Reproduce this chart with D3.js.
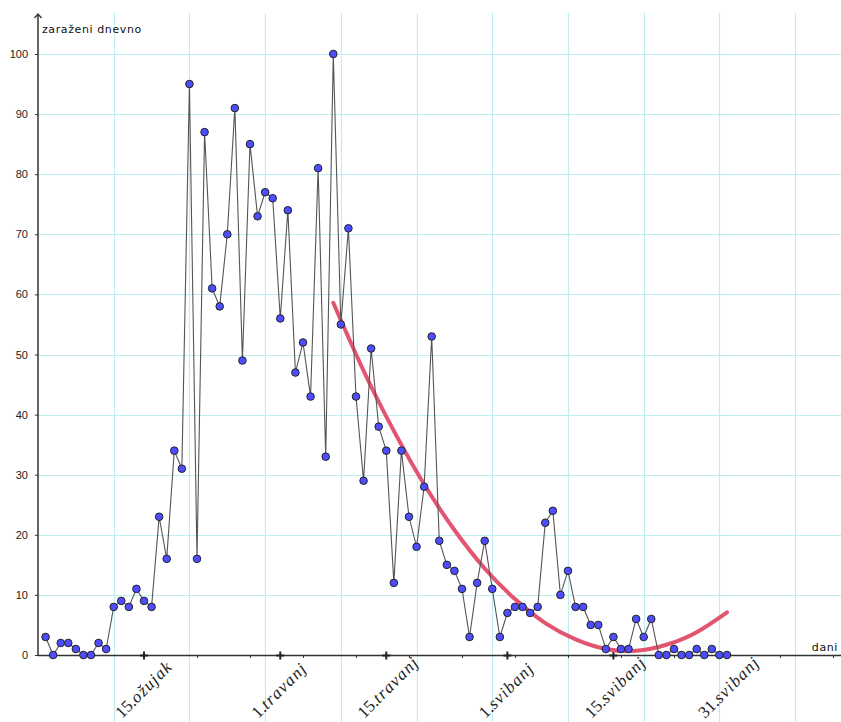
<!DOCTYPE html>
<html>
<head>
<meta charset="utf-8">
<script src="https://cdn.jsdelivr.net/npm/d3@7"></script>
<style>
  body { margin: 0; background: #fff; }
  svg { display: block; }
</style>
</head>
<body>
<svg id="chart" width="841" height="722"></svg>
<script>
// daily new cases, one value per day (day 1 .. day 91)
var days = d3.range(1, 92);
var cases = [3,0,2,2,1,0,0,2,1,8,
             9,8,11,9,8,23,16,34,31,95,
             16,87,61,58,70,91,49,85,73,77,
             76,56,74,47,52,43,81,33,100,55,
             71,43,29,51,38,34,12,34,23,18,
             28,53,19,15,14,11,3,12,19,11,
             3,7,8,8,7,8,22,24,10,14,
             8,8,5,5,1,3,1,1,6,3,
             6,0,0,1,0,0,1,0,1,0,
             0];

// trend curve
var fitDays   = [39, 43, 47, 51, 55, 59, 63, 67, 71, 75, 79, 83, 87, 91];
var fitValues = [58.6, 47.3, 37.3, 28.4, 20.8, 14.4, 9.3, 5.3, 2.6, 1.0, 0.7, 1.7, 3.8, 7.1];

// axes
var yTicks = [0, 10, 20, 30, 40, 50, 60, 70, 80, 90, 100];
var gridDays = [10, 20, 30, 40, 50, 60, 70, 80, 90, 100];
var gridValues = [10, 20, 30, 40, 50, 60, 70, 80, 90, 100];
var minorTickDays = [7, 14, 21, 28, 35, 42, 49, 56, 63, 70, 77, 84, 91, 98, 105];
var markDays = [14, 32, 46, 62, 76];
var labelDays = [14, 32, 46, 62, 76, 91];
var labelNums = ["15.", "1.", "15.", "1.", "15.", "31."];
var labelMonths = ["ožujak", "travanj", "travanj", "svibanj", "svibanj", "svibanj"];

var svg = d3.select("#chart");
var x = d3.scaleLinear().domain([0, 106.06]).range([38, 841]);
var y = d3.scaleLinear().domain([0, 100]).range([655, 54]);

// grid
var grid = svg.append("g").attr("stroke", "#bdeef0").attr("stroke-width", 1.2);
grid.selectAll("line.v")
    .data(gridDays)
    .enter().append("line")
    .attr("class", "v")
    .attr("x1", function(d) { return Math.round(x(d)) + 0.5; })
    .attr("x2", function(d) { return Math.round(x(d)) + 0.5; })
    .attr("y1", 13).attr("y2", 722);
grid.selectAll("line.h")
    .data(gridValues)
    .enter().append("line")
    .attr("class", "h")
    .attr("y1", function(d) { return Math.round(y(d)) + 0.5; })
    .attr("y2", function(d) { return Math.round(y(d)) + 0.5; })
    .attr("x1", 38).attr("x2", 841);

// y axis ticks + labels
var yAxis = svg.append("g")
    .attr("transform", "translate(38,0)")
    .call(d3.axisLeft(y).tickValues(yTicks).tickSize(3).tickPadding(7));
yAxis.select(".domain").remove();
yAxis.selectAll("line").attr("stroke", "#333");
yAxis.selectAll("text")
    .style("font-family", "'Liberation Sans', Arial, sans-serif")
    .style("font-size", "11px")
    .attr("fill", "#222");

// x axis small ticks
var xAxis = svg.append("g")
    .attr("transform", "translate(0,655)")
    .call(d3.axisBottom(x).tickValues(minorTickDays).tickSize(3).tickFormat(""));
xAxis.select(".domain").remove();
xAxis.selectAll("line").attr("stroke", "#333");

// axis lines
svg.append("line").attr("x1", 38).attr("x2", 841).attr("y1", 655.5).attr("y2", 655.5)
    .attr("stroke", "#333").attr("stroke-width", 1.5);
svg.append("line").attr("x1", 38).attr("x2", 38).attr("y1", 655).attr("y2", 14)
    .attr("stroke", "#333").attr("stroke-width", 1.5);
svg.append("path").attr("d", "M34.5,18 L38,14 L41.5,18")
    .attr("fill", "none").attr("stroke", "#333").attr("stroke-width", 1.3);

// cross marks at the labelled dates
svg.selectAll("path.mark")
    .data(markDays)
    .enter().append("path")
    .attr("class", "mark")
    .attr("d", function(d) {
      var cx = x(d), cy = y(0) + 0.5;
      return "M" + (cx - 4) + "," + cy + "H" + (cx + 4) + "M" + cx + "," + (cy - 4) + "V" + (cy + 4);
    })
    .attr("stroke", "#222").attr("stroke-width", 2);

// axis titles
svg.append("text").attr("x", 42).attr("y", 33)
    .style("font-family", "'DejaVu Sans', sans-serif").style("font-size", "11px")
    .style("letter-spacing", "0.6px").attr("fill", "#111")
    .text("zaraženi dnevno");
svg.append("text").attr("x", 838).attr("y", 651).attr("text-anchor", "end")
    .style("font-family", "'DejaVu Sans', sans-serif").style("font-size", "11px")
    .style("letter-spacing", "0.6px").attr("fill", "#111")
    .text("dani");

// rotated date labels
var labels = svg.selectAll("text.date")
    .data(labelDays)
    .enter().append("text")
    .attr("class", "date")
    .attr("transform", function(d) { return "translate(" + (x(d) - 22) + ",719) rotate(-45)"; })
    .style("font-family", "'Liberation Serif', 'DejaVu Serif', serif")
    .style("font-size", "17px")
    .attr("fill", "#222");
labels.append("tspan").text(function(d, i) { return labelNums[i]; });
labels.append("tspan").style("font-style", "italic").style("letter-spacing", "1.2px")
    .text(function(d, i) { return labelMonths[i]; });

// trend curve
var fitLine = d3.line()
    .x(function(d, i) { return x(fitDays[i]); })
    .y(function(d) { return y(d); })
    .curve(d3.curveNatural);
svg.append("path")
    .datum(fitValues)
    .attr("d", fitLine)
    .attr("fill", "none")
    .attr("stroke", "#e3546f")
    .attr("stroke-width", 4)
    .attr("stroke-linecap", "round");

// daily series
var line = d3.line()
    .x(function(d, i) { return x(days[i]); })
    .y(function(d) { return y(d); });
svg.append("path")
    .datum(cases)
    .attr("d", line)
    .attr("fill", "none")
    .attr("stroke", "#555")
    .attr("stroke-width", 1.1);

svg.selectAll("circle.pt")
    .data(cases)
    .enter().append("circle")
    .attr("class", "pt")
    .attr("cx", function(d, i) { return x(days[i]); })
    .attr("cy", function(d) { return y(d); })
    .attr("r", 3.8)
    .attr("fill", "#4d4dff")
    .attr("stroke", "#222")
    .attr("stroke-width", 1);
</script>
</body>
</html>
